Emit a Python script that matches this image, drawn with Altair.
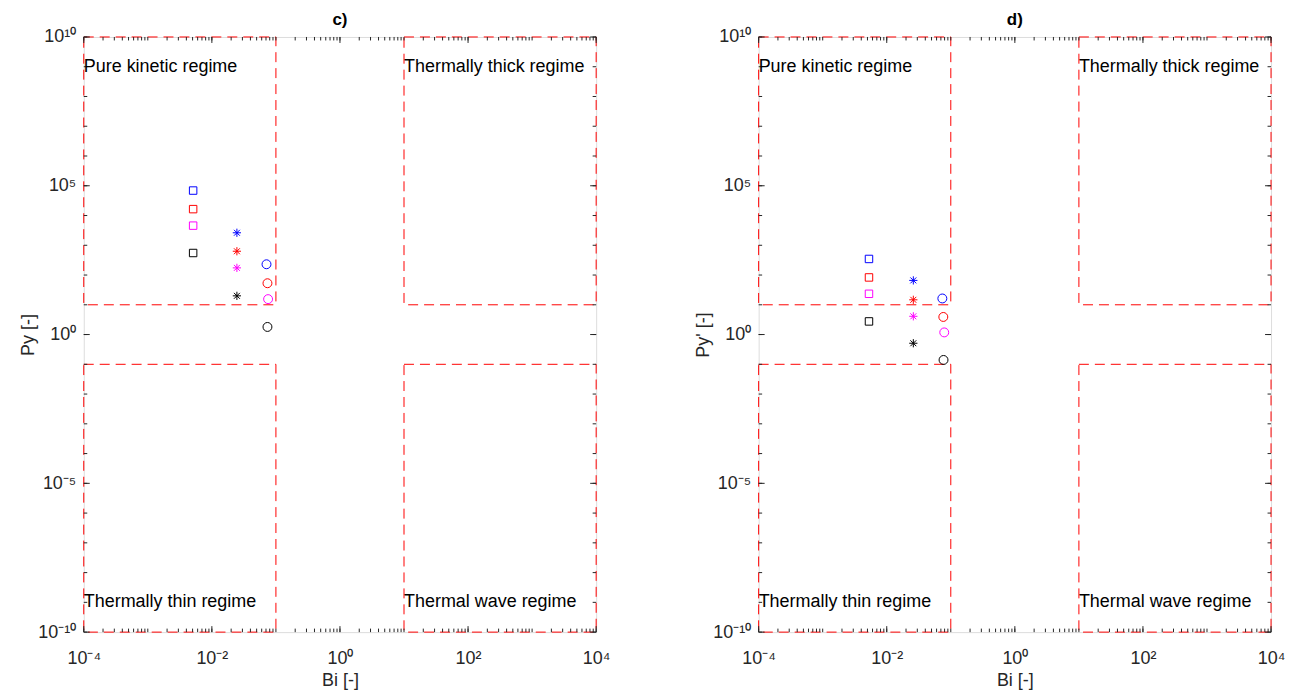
import math
import altair as alt
import pandas as pd

# ---------------- data ----------------
series = ["blue", "red", "magenta", "black"]
series_colors = ["#0000ff", "#ff0000", "#ff00ff", "#000000"]

# panel c)
c_bi_square = [0.0051, 0.0051, 0.0051, 0.0051]
c_py_square = [69000, 16400, 4570, 550]
c_bi_star = [0.0246, 0.0246, 0.0246, 0.0246]
c_py_star = [2630, 630, 174, 20]
c_bi_circle = [0.0713, 0.0738, 0.0755, 0.0738]
c_py_circle = [230, 53, 15.5, 1.8]

# panel d)
d_bi_square = [0.00528, 0.00528, 0.00528, 0.00528]
d_py_square = [347, 83, 23.4, 2.76]
d_bi_star = [0.026, 0.026, 0.026, 0.026]
d_py_star = [66, 14.7, 4.1, 0.51]
d_bi_circle = [0.0738, 0.0764, 0.079, 0.077]
d_py_circle = [16.3, 3.9, 1.18, 0.14]

# regime regions
region_names = ["Pure kinetic regime", "Thermally thick regime",
                "Thermally thin regime", "Thermal wave regime"]
region_bi_lo = [1e-4, 10, 1e-4, 10]
region_bi_hi = [0.1, 1e4, 0.1, 1e4]
region_py_lo = [10, 10, 1e-10, 1e-10]
region_py_hi = [1e10, 1e10, 0.1, 0.1]
region_label_py = [1e9, 1e9, 1e-9, 1e-9]

x_major = [1e-4, 1e-2, 1, 1e2, 1e4]
x_minor = [m * 10.0 ** e for e in range(-4, 4) for m in range(1, 10)] + [1e4]
y_major = [1e-10, 1e-5, 1, 1e5, 1e10]
y_minor = [10.0 ** e for e in range(-10, 11)]

# ---------------- helpers ----------------
W, H = 514, 597
AX = "#262626"
FONT = "Liberation Sans"
ASTERISK = "M-1,0L1,0M0,-1L0,1M-0.72,-0.72L0.72,0.72M-0.72,0.72L0.72,-0.72"
SUP = str.maketrans("-0123456789", "⁻⁰¹²³⁴⁵⁶⁷⁸⁹")


def label_expr(vals):
    parts = []
    for v in vals:
        e = int(round(math.log10(v)))
        parts.append(f"round(log(datum.value)/LN10) == {e} ? '10{str(e).translate(SUP)}'")
    return " : ".join(parts) + " : ''"


xs = alt.Scale(type="log", domain=[1e-4, 1e4], nice=False)
ys = alt.Scale(type="log", domain=[1e-10, 1e10], nice=False)

X_AXIS = alt.Axis(
    values=x_major, labelExpr=label_expr(x_major), ticks=False, domain=False,
    grid=False, title="Bi [-]", labelFontSize=18, titleFontSize=18,
    labelPadding=17, titlePadding=5, titleFontWeight="normal",
    labelColor=AX, titleColor=AX, labelFlush=False, labelFont=FONT, titleFont=FONT,
    labelOverlap=False)


def y_axis(title):
    return alt.Axis(
        values=y_major, labelExpr=label_expr(y_major), ticks=False, domain=False,
        grid=False, title=title, labelFontSize=18, titleFontSize=18,
        labelPadding=8, titlePadding=0, titleFontWeight="normal",
        labelColor=AX, titleColor=AX, labelFlush=False, labelFont=FONT, titleFont=FONT,
        labelOverlap=False)


df_regions = pd.DataFrame({
    "name": region_names, "bi_lo": region_bi_lo, "bi_hi": region_bi_hi,
    "py_lo": region_py_lo, "py_hi": region_py_hi, "py_lab": region_label_py,
})


def points_df(bsq, psq, bst, pst, bci, pci):
    rows = []
    for shape, bb, pp in (("square", bsq, psq), ("star", bst, pst), ("circle", bci, pci)):
        for s, b, p in zip(series, bb, pp):
            rows.append({"series": s, "shape": shape, "bi": b, "py": p})
    return pd.DataFrame(rows)


def tick_layers(YA):
    layers = []
    for vals, ln in ((x_major, 6), (x_minor, 3.5)):
        d = pd.DataFrame({"v": vals})
        base = alt.Chart(d).mark_rule(color=AX, strokeWidth=1)
        layers.append(base.encode(x=alt.X("v:Q", scale=xs, axis=X_AXIS),
                                  y=alt.value(H), y2=alt.value(H - ln)))
        layers.append(base.encode(x=alt.X("v:Q", scale=xs, axis=X_AXIS),
                                  y=alt.value(0), y2=alt.value(ln)))
    for vals, ln in ((y_major, 6), (y_minor, 3.5)):
        d = pd.DataFrame({"v": vals})
        base = alt.Chart(d).mark_rule(color=AX, strokeWidth=1)
        layers.append(base.encode(y=alt.Y("v:Q", scale=ys, axis=YA),
                                  x=alt.value(0), x2=alt.value(ln)))
        layers.append(base.encode(y=alt.Y("v:Q", scale=ys, axis=YA),
                                  x=alt.value(W), x2=alt.value(W - ln)))
    return layers


def panel(df_pts, title, ylabel):
    YA = y_axis(ylabel)
    regions = alt.Chart(df_regions).mark_rect(
        fillOpacity=0, stroke="#ff0000", strokeDash=[10, 6], strokeWidth=1
    ).encode(
        x=alt.X("bi_lo:Q", scale=xs, axis=X_AXIS),
        x2="bi_hi:Q",
        y=alt.Y("py_lo:Q", scale=ys, axis=YA),
        y2="py_hi:Q",
    )
    texts = alt.Chart(df_regions).mark_text(
        align="left", baseline="middle", fontSize=18, font=FONT, color="#000000"
    ).encode(
        x=alt.X("bi_lo:Q", scale=xs, axis=X_AXIS),
        y=alt.Y("py_lab:Q", scale=ys, axis=YA),
        text="name:N",
    )
    pts = alt.Chart(df_pts).mark_point(filled=False, strokeWidth=1, opacity=1).encode(
        x=alt.X("bi:Q", scale=xs, axis=X_AXIS),
        y=alt.Y("py:Q", scale=ys, axis=YA),
        color=alt.Color("series:N", scale=alt.Scale(domain=series, range=series_colors), legend=None),
        shape=alt.Shape("shape:N", scale=alt.Scale(domain=["square", "star", "circle"],
                                                   range=["square", ASTERISK, "circle"]), legend=None),
        size=alt.Size("shape:N", scale=alt.Scale(domain=["square", "star", "circle"],
                                                 range=[56, 80, 78]), legend=None),
    )
    return alt.layer(regions, *tick_layers(YA), texts, pts).properties(
        width=W, height=H,
        title=alt.Title(title, fontSize=17, fontWeight="bold", font=FONT, color="#000000",
                        offset=-1, frame="group"),
    )


pc = panel(points_df(c_bi_square, c_py_square, c_bi_star, c_py_star, c_bi_circle, c_py_circle),
           "c)", "Py [-]")
pd_ = panel(points_df(d_bi_square, d_py_square, d_bi_star, d_py_star, d_bi_circle, d_py_circle),
            "d)", "Py' [-]")

chart = alt.hconcat(pc, pd_, spacing=83).properties(
    padding={"left": 11, "top": 1, "right": -1, "bottom": -2}
).configure_view(stroke=AX, strokeWidth=1).configure(font=FONT, background="white")

chart.save("out.html", embed_options={"renderer": "svg", "actions": False})
